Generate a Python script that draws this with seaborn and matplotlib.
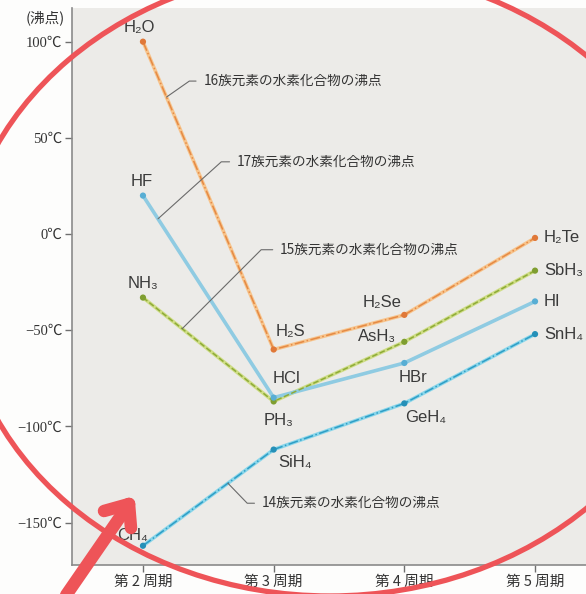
import numpy as np
import pandas as pd
import matplotlib
matplotlib.use("Agg")
import matplotlib.pyplot as plt
from matplotlib.patches import Ellipse
import seaborn as sns

# ---- data: boiling points (°C) of hydrogen compounds by period ----
periods = [2, 3, 4, 5]
period_labels = ["第 2 周期", "第 3 周期", "第 4 周期", "第 5 周期"]

g16_names = ["H₂O", "H₂S", "H₂Se", "H₂Te"]
g16_bp = [100, -60, -42, -2]

g17_names = ["HF", "HCl", "HBr", "HI"]
g17_bp = [20, -85, -67, -35]

g15_names = ["NH₃", "PH₃", "AsH₃", "SbH₃"]
g15_bp = [-33, -87, -56, -19]

g14_names = ["CH₄", "SiH₄", "GeH₄", "SnH₄"]
g14_bp = [-162, -112, -88, -52]

group_titles = {
    "16": "16族元素の水素化合物の沸点",
    "17": "17族元素の水素化合物の沸点",
    "15": "15族元素の水素化合物の沸点",
    "14": "14族元素の水素化合物の沸点",
}

y_ticks = [100, 50, 0, -50, -100, -150]
y_tick_labels = ["100℃", "50℃", "0℃", "−50℃", "−100℃", "−150℃"]

frames = []
for grp, names, vals in [("16", g16_names, g16_bp), ("17", g17_names, g17_bp),
                         ("15", g15_names, g15_bp), ("14", g14_names, g14_bp)]:
    frames.append(pd.DataFrame({"period": periods, "bp": vals, "name": names, "group": grp}))
df = pd.concat(frames, ignore_index=True)

# ---- styling ----
sns.set_theme(style="ticks")
plt.rcParams["font.family"] = ["Noto Sans CJK JP", "DejaVu Sans"]

W, H = 586, 594
fig = plt.figure(figsize=(W / 100, H / 100), dpi=100, facecolor="#fdfdfc")
ax = fig.add_axes([72 / W, 1 - 565 / H, 1 - 72 / W, (565 - 8) / H])
ax.set_facecolor("#ecebe8")

styles = {
    # group: (under colour, over colour, over linestyle, marker colour)
    "16": ("#f7c48c", "#e58a45", "-.", "#e07838"),
    "17": ("#8fcbe2", "#8fcbe2", "-", "#58aed4"),
    "15": ("#cfdd86", "#8eab38", "--", "#7f9e30"),
    "14": ("#8ad6ea", "#2f9ec6", "-.", "#2590b8"),
}

for grp in ["14", "15", "17", "16"]:
    sub = df[df.group == grp]
    under, over, ls, mk = styles[grp]
    sns.lineplot(data=sub, x="period", y="bp", ax=ax, color=under, lw=2.6,
                 legend=False, zorder=2)
    if ls != "-":
        sns.lineplot(data=sub, x="period", y="bp", ax=ax, color=over, lw=1.1,
                     linestyle=ls, legend=False, zorder=3)
    sns.scatterplot(data=sub, x="period", y="bp", ax=ax, color=mk, s=20,
                    edgecolor="none", legend=False, zorder=4)

# compound labels: offsets in pixels from each point
offsets = {
    "H₂O": (-4, 14, "center"), "HF": (-1, 14, "center"), "NH₃": (0, 14, "center"),
    "CH₄": (-10, 10, "center"),
    "H₂S": (17, 18, "center"), "HCl": (13, 19, "center"), "PH₃": (5, -19, "center"),
    "SiH₄": (21, -13, "center"),
    "H₂Se": (-22, 12, "center"), "AsH₃": (-27, 5, "center"), "HBr": (9, -15, "center"),
    "GeH₄": (21, -14, "center"),
    "H₂Te": (9, 0, "left"), "SbH₃": (9, 0, "left"), "HI": (9, 0, "left"),
    "SnH₄": (9, 0, "left"),
}
for _, row in df.iterrows():
    dx, dy, ha = offsets[row["name"]]
    ax.annotate(row["name"], (row["period"], row["bp"]), xytext=(dx, dy),
                textcoords="offset pixels", ha=ha, va="center", fontsize=12,
                color="#3a3a3a", family=["Liberation Sans", "DejaVu Sans"], zorder=5)

# group captions with leader lines anchored on a segment of each series
def seg_point(vals, i, t):
    x = periods[i] + t * (periods[i + 1] - periods[i])
    y = vals[i] + t * (vals[i + 1] - vals[i])
    return x, y

leaders = [
    ("16", seg_point(g16_bp, 0, 0.18), (37, 16), 35),
    ("17", seg_point(g17_bp, 0, 0.115), (79, 57), 42),
    ("15", seg_point(g15_bp, 0, 0.30), (98, 79), 45),
    ("14", seg_point(g14_bp, 0, 0.65), (34, -20), -46),
]
for grp, xy, (dx, dy), ang in leaders:
    ax.annotate(group_titles[grp], xy, xytext=(dx, dy), textcoords="offset pixels",
                ha="left", va="center", fontsize=9.8, color="#333333", zorder=5,
                arrowprops=dict(arrowstyle="-", color="#6a6a6a", lw=0.8,
                                shrinkA=3, shrinkB=0, relpos=(0, 0.5),
                                connectionstyle=f"angle,angleA=0,angleB={ang},rad=0"))

# axes
ax.set_xlim(1.457, 5.39)
ax.set_ylim(-172, 117.5)
ax.set_xticks(periods)
ax.set_xticklabels(period_labels, fontsize=10.5, color="#333333")
ax.set_yticks(y_ticks)
ax.set_yticklabels(y_tick_labels, fontsize=10.5, color="#333333",
                   family=["Liberation Serif", "Noto Sans CJK JP"])
ax.set_xlabel("")
ax.set_ylabel("")
ax.tick_params(axis="both", direction="out", length=5, width=1, color="#6f6f6f", pad=2)
for s in ["top", "right"]:
    ax.spines[s].set_visible(False)
for s in ["left", "bottom"]:
    ax.spines[s].set_color("#8a8a8a")
    ax.spines[s].set_linewidth(1.2)
fig.text(45 / W, 1 - 18 / H, "(沸点)", ha="center", va="center", fontsize=10.5,
         color="#333333")

# hand-drawn red emphasis: circle and arrow
ov = fig.add_axes([0, 0, 1, 1], facecolor="none", zorder=10)
ov.set_xlim(0, W)
ov.set_ylim(H, 0)
ov.axis("off")
red = "#ee5458"
ov.add_patch(Ellipse((330, 282), 740, 628, fill=False, edgecolor=red, lw=3.8))
tip = np.array([129, 504])
ov.plot([60, tip[0]], [604, tip[1]], color=red, lw=9, solid_capstyle="round")
for arm in ([104, 511], [131, 528]):
    ov.plot([tip[0], arm[0]], [tip[1], arm[1]], color=red, lw=9,
            solid_capstyle="round")

fig.savefig("out.png", dpi=100, facecolor=fig.get_facecolor())
